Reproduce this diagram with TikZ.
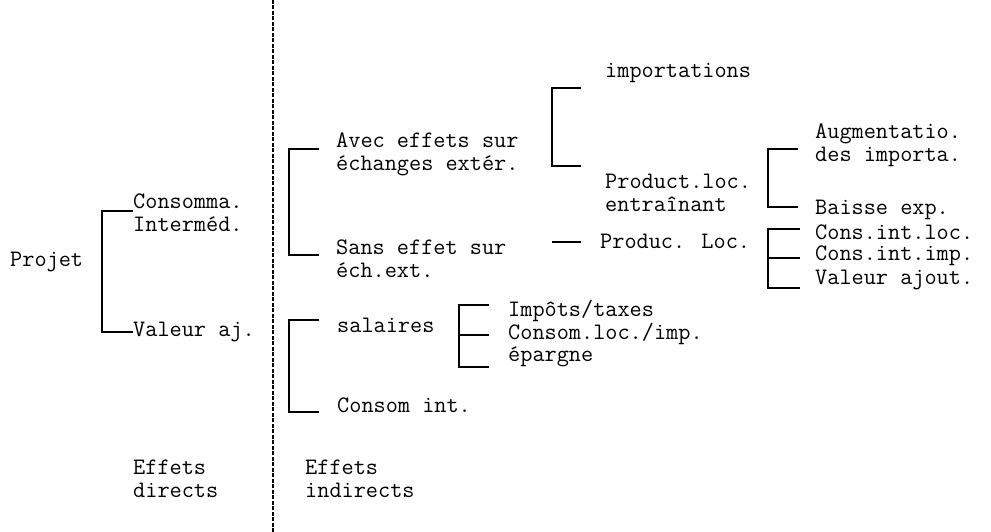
\documentclass[tikz,border=0pt]{standalone}
\usepackage{fontspec}
\begin{document}
\begin{tikzpicture}[x=1pt,y=-1pt,
  lbl/.style={anchor=west,inner sep=0pt,align=left,font=\ttfamily\fontsize{23.6}{23}\selectfont},
  brk/.style={draw,line width=1.6pt},
  sep/.style={draw,line width=1.8pt,dash pattern=on 4pt off 1.5pt}]
\useasboundingbox (0,0) rectangle (991,532);
% divider
\coordinate (dtop) at (273,0);
\coordinate (dbot) at (273,532);
\draw[sep] (dtop) -- (dbot);
% texts
\node[lbl] (projet) at (10,262) {Projet};
\node[lbl] (ci) at (133,212.5) {Consomma.\\Interméd.};
\node[lbl] (va) at (133,332) {Valeur aj.};
\node[lbl] (avec) at (336,154.5) {Avec effets sur\\échanges extér.};
\node[lbl] (sans) at (336,258.5) {Sans effet sur\\éch.ext.};
\node[lbl] (imp) at (605,73) {importations};
\node[lbl] (prod) at (605,192.5) {Product.loc.\\entraînant};
\node[lbl] (pl) at (600,241) {Produc. Loc.};
\node[lbl] (aug) at (815,145.5) {Augmentatio.\\des importa.};
\node[lbl] (baisse) at (815,210) {Baisse exp.};
\node[lbl] (cil) at (815,232) {Cons.int.loc.};
\node[lbl] (cii) at (815,256) {Cons.int.imp.};
\node[lbl] (vaj) at (815,280) {Valeur ajout.};
\node[lbl] (sal) at (337,325) {salaires};
\node[lbl] (cint) at (337,405) {Consom int.};
\node[lbl] (taxes) at (508,311) {Impôts/taxes};
\node[lbl] (cli) at (508,334) {Consom.loc./imp.};
\node[lbl] (epar) at (508,357) {épargne};
\node[lbl] (ed) at (133,479) {Effets\\directs};
\node[lbl] (ei) at (305,479) {Effets\\indirects};
% bracket 1: Projet
\draw[brk] (ci.west |- 0,211) -- (102,211) -- (102,332) -- (va.west);
% bracket 2
\draw[brk] (319,149) -- (289,149) -- (289,255) -- (319,255);
% bracket 3
\draw[brk] (581,88) -- (552,88) -- (552,166) -- (581,166);
% dash to Produc. Loc.
\draw[brk] (552,242) -- (581,242);
% bracket 6
\draw[brk] (798,149) -- (768,149) -- (768,207) -- (798,207);
% bracket 7
\draw[brk] (800,229) -- (768,229) -- (768,288) -- (800,288);
\draw[brk] (768,258) -- (800,258);
% bracket 4
\draw[brk] (319,320) -- (289,320) -- (289,412) -- (319,412);
% bracket 5
\draw[brk] (489,305) -- (459,305) -- (459,367) -- (489,367);
\draw[brk] (459,335) -- (489,335);
\end{tikzpicture}
\end{document}
